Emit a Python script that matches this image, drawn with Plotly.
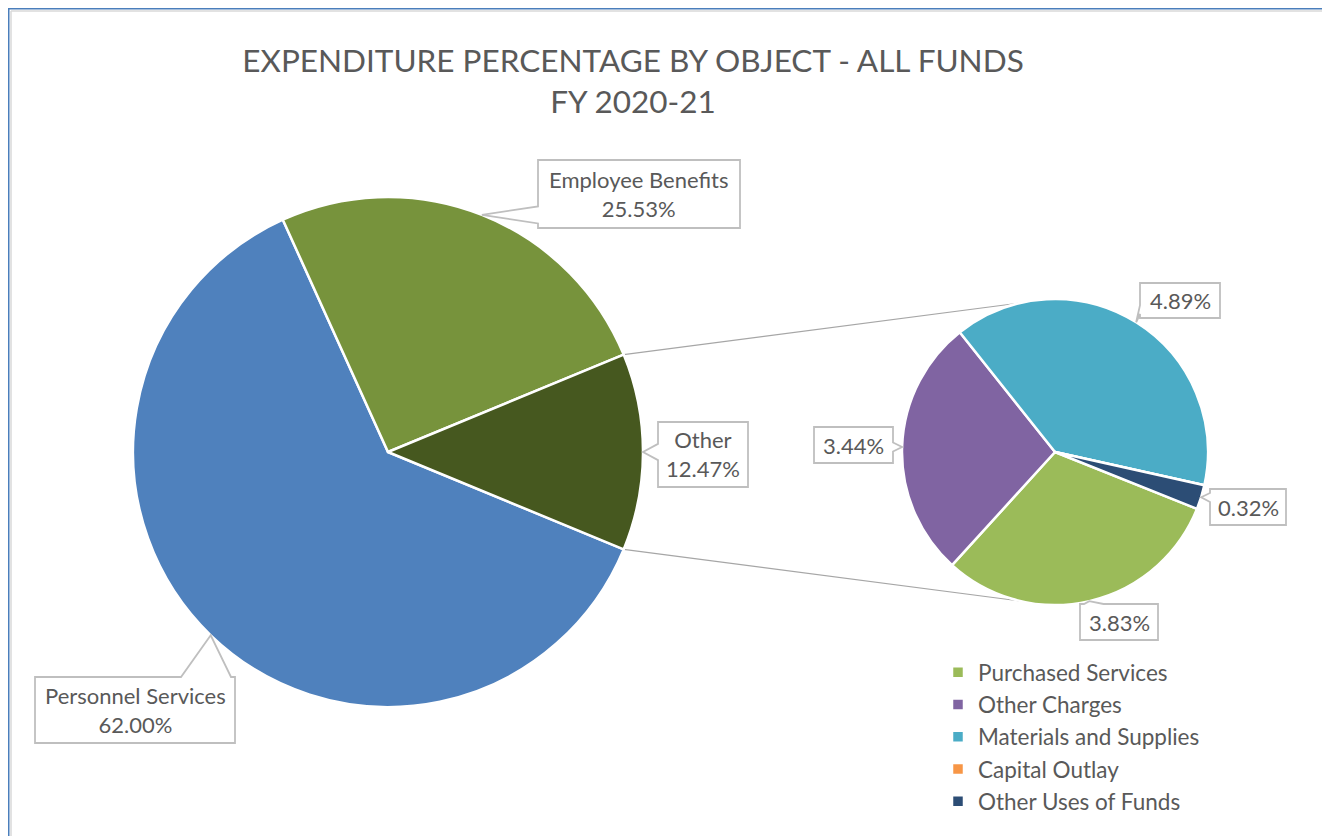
import math
import plotly.graph_objects as go

# Pie-of-pie: expenditure share by object, FY 2020-21

W, H = 1322, 828
OFF = 8  # page margin around the plot

main_labels = ["Personnel Services", "Employee Benefits", "Other"]
main_values = [62.00, 25.53, 12.47]
main_colors = ["#4f81bd", "#77933c", "#46581f"]

sub_labels = ["Purchased Services", "Other Charges", "Materials and Supplies",
              "Capital Outlay", "Other Uses of Funds"]
sub_values = [3.83, 3.44, 4.89, 0.00, 0.32]
sub_colors = ["#9bbb59", "#8064a2", "#4bacc6", "#f79646", "#2c4d75"]

FONT = "Lato"
GREY = "#595959"

# pixel geometry of the two pies (window coordinates)
main_c, main_r = (388, 452), 255
sub_c, sub_r = (1055, 452), 153

# "Other" slice is centred on 3 o'clock, slices run clockwise
main_rot = 90 + main_values[-1] / sum(main_values) * 180
sub_rot = 111.8


def px(x, y):
    return (x - OFF) / W, 1 - (y - OFF) / H


def domain(c, r):
    x0, y1 = px(c[0] - r, c[1] - r)
    x1, y0 = px(c[0] + r, c[1] + r)
    return dict(x=[x0, x1], y=[y0, y1])


def mid_angle(values, rot, i):
    tot = sum(values)
    cum = sum(values[:i]) + values[i] / 2
    return 90 - rot - cum / tot * 360


def on_circle(c, r, ang):
    a = math.radians(ang)
    return c[0] + r * math.cos(a), c[1] - r * math.sin(a)


fig = go.Figure()
fig.add_trace(go.Pie(
    labels=main_labels, values=main_values, sort=False, direction="clockwise",
    rotation=main_rot, domain=domain(main_c, main_r), textinfo="none",
    marker=dict(colors=main_colors, line=dict(color="white", width=2.5)),
    showlegend=False, hoverinfo="label+percent",
))
fig.add_trace(go.Pie(
    labels=sub_labels, values=sub_values, sort=False, direction="clockwise",
    rotation=sub_rot, domain=domain(sub_c, sub_r), textinfo="none",
    marker=dict(colors=sub_colors, line=dict(color="white", width=2.5)),
    showlegend=True, hoverinfo="label+value",
))

shapes = []
annotations = []

# connector lines from the "Other" slice to the secondary pie
half = main_values[-1] / sum(main_values) * 180
for a_main, a_sub in [(half, 103), (-half, -103)]:
    x0, y0 = px(*on_circle(main_c, main_r, a_main))
    x1, y1 = px(*on_circle(sub_c, sub_r, a_sub))
    shapes.append(dict(type="line", xref="paper", yref="paper", x0=x0, y0=y0,
                       x1=x1, y1=y1, line=dict(color="#a6a6a6", width=1.2),
                       layer="below"))


def callout(box, tip, text):
    # box = (left, top, right, bottom) in pixels, tip in pixels
    l, t, r, b = box
    tx, ty = tip
    if tx < l:
        side = "l"
    elif tx > r:
        side = "r"
    elif ty < t:
        side = "t"
    else:
        side = "b"
    if side in ("l", "r"):
        bw = (b - t) * 0.25
        m = min(max(ty, t + bw / 2 + 4), b - bw / 2 - 4)
        if side == "l":
            pts = [(l, t), (r, t), (r, b), (l, b), (l, m + bw / 2), (tx, ty), (l, m - bw / 2)]
        else:
            pts = [(l, t), (r, t), (r, m - bw / 2), (tx, ty), (r, m + bw / 2), (r, b), (l, b)]
    else:
        bw = (r - l) * 0.25
        m = min(max(tx, l + bw / 2 + 4), r - bw / 2 - 4)
        if side == "t":
            pts = [(l, t), (m - bw / 2, t), (tx, ty), (m + bw / 2, t), (r, t), (r, b), (l, b)]
        else:
            pts = [(l, t), (r, t), (r, b), (m + bw / 2, b), (tx, ty), (m - bw / 2, b), (l, b)]
    path = "M " + " L ".join("%f,%f" % px(x, y) for x, y in pts) + " Z"
    shapes.append(dict(type="path", xref="paper", yref="paper", path=path,
                       fillcolor="white", line=dict(color="#bfbfbf", width=1.8),
                       layer="above"))
    cx, cy = px((l + r) / 2, (t + b) / 2)
    annotations.append(dict(xref="paper", yref="paper", x=cx, y=cy, text=text,
                            showarrow=False, font=dict(family=FONT, size=22, color=GREY),
                            xanchor="center", yanchor="middle"))


main_boxes = [(35, 677, 235, 743), (538, 160, 740, 228), (658, 422, 748, 487)]
for i, box in enumerate(main_boxes):
    tip = on_circle(main_c, main_r, mid_angle(main_values, main_rot, i))
    callout(box, tip, "%s<br>%.2f%%" % (main_labels[i], main_values[i]))

sub_boxes = {0: (1080, 604, 1158, 640), 1: (814, 427, 893, 463),
             2: (1140, 283, 1220, 318), 4: (1210, 489, 1286, 525)}
for i, box in sub_boxes.items():
    tip = on_circle(sub_c, sub_r, mid_angle(sub_values, sub_rot, i))
    callout(box, tip, "%.2f%%" % sub_values[i])

# chart frame (blue outer edge, light grey inner edge)
fx0, fy0 = px(8, 8)
gx0, gy0 = px(11, 11)
gx1, _ = px(1327, 0)
shapes += [
    dict(type="line", xref="paper", yref="paper", x0=0, x1=1, y0=fy0, y1=fy0,
         line=dict(color="#4a7ebb", width=3)),
    dict(type="line", xref="paper", yref="paper", x0=fx0, x1=fx0, y0=0, y1=fy0,
         line=dict(color="#4a7ebb", width=3)),
    dict(type="line", xref="paper", yref="paper", x0=gx0, x1=gx0, y0=0, y1=gy0,
         line=dict(color="#d9d9d9", width=1.5)),
    dict(type="line", xref="paper", yref="paper", x0=gx0, x1=gx1, y0=gy0, y1=gy0,
         line=dict(color="#d9d9d9", width=1.5)),
    dict(type="line", xref="paper", yref="paper", x0=gx1, x1=gx1, y0=0, y1=gy0,
         line=dict(color="#d9d9d9", width=2)),
]

lx, ly = px(938, 651)
fig.update_layout(
    width=W, height=H,
    margin=dict(l=0, r=0, t=0, b=0),
    paper_bgcolor="white",
    title=dict(text="EXPENDITURE PERCENTAGE BY OBJECT - ALL FUNDS<br>FY 2020-21",
               x=px(633, 0)[0], xanchor="center", y=px(0, 72)[1], yanchor="top",
               font=dict(family=FONT, size=31.5, color=GREY)),
    legend=dict(x=lx, y=ly, xanchor="left", yanchor="top",
                font=dict(family=FONT, size=22.5, color=GREY), bgcolor="rgba(0,0,0,0)"),
    shapes=shapes,
    annotations=annotations,
)

fig.write_html("out.html")
